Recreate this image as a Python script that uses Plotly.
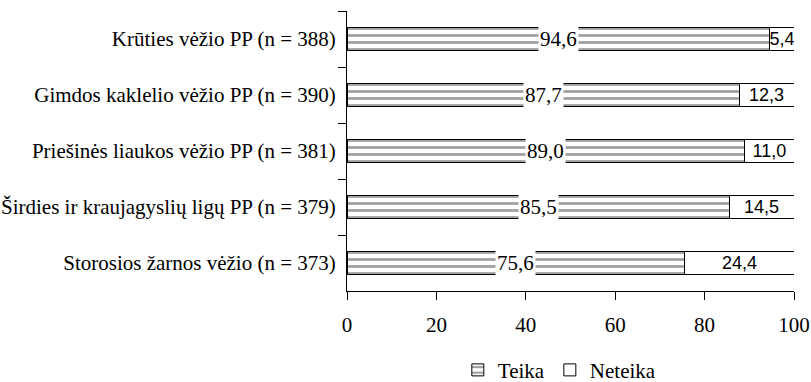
import plotly.graph_objects as go

categories = [
    "Krūties vėžio PP (n = 388)",
    "Gimdos kaklelio vėžio PP (n = 390)",
    "Priešinės liaukos vėžio PP (n = 381)",
    "Širdies ir kraujagyslių ligų PP (n = 379)",
    "Storosios žarnos vėžio (n = 373)",
]
teika = [94.6, 87.7, 89.0, 85.5, 75.6]
neteika = [5.4, 12.3, 11.0, 14.5, 24.4]
series_names = ["Teika", "Neteika"]
x_ticks = [0, 20, 40, 60, 80, 100]

def fmt(v):
    return f"{v:.1f}".replace(".", ",")

SERIF = "Liberation Serif"
SANS = "Liberation Sans"

fig = go.Figure()
fig.add_trace(go.Bar(
    y=categories, x=teika, orientation="h", name=series_names[0],
    marker=dict(color="white", line=dict(color="black", width=1),
                pattern=dict(shape="-", fgcolor="#444444", bgcolor="white", size=7, solidity=0.4)),
    hoverinfo="x+y",
))
fig.add_trace(go.Bar(
    y=categories, x=neteika, orientation="h", name=series_names[1],
    marker=dict(color="white", line=dict(color="black", width=1)),
    text=[fmt(v) for v in neteika], textposition="inside", insidetextanchor="middle",
    constraintext="none",
    textfont=dict(family=SANS, size=18, color="black"),
))

for c, v in zip(categories, teika):
    fig.add_annotation(x=v / 2, y=c, text=fmt(v), showarrow=False,
                       bgcolor="white", borderpad=1,
                       font=dict(family=SERIF, size=21, color="black"))

fig.update_layout(
    barmode="stack",
    bargap=0.6,
    width=811, height=382,
    margin=dict(l=347, r=17, t=11, b=91, autoexpand=False),
    paper_bgcolor="white", plot_bgcolor="white",
    font=dict(family=SERIF, size=21, color="black"),
    showlegend=True,
    legend=dict(orientation="h", x=0.475, xanchor="center", y=-0.283, yanchor="middle",
                font=dict(family=SERIF, size=21), traceorder="normal"),
    xaxis=dict(range=[0, 100], tickvals=x_ticks, ticktext=[str(t) for t in x_ticks],
               showgrid=False, zeroline=False, showline=True, linecolor="black", linewidth=1,
               ticks="outside", ticklen=8, tickcolor="black", ticklabelstandoff=7,
               automargin=False, tickfont=dict(family=SERIF, size=21)),
    yaxis=dict(autorange="reversed", showgrid=False, showline=True, linecolor="black", linewidth=1,
               ticks="outside", tickson="boundaries", ticklen=8, tickcolor="black",
               ticklabelstandoff=6, automargin=False, tickfont=dict(family=SERIF, size=21)),
)

fig.write_html("out.html", config={"displayModeBar": False},
               post_script="document.body.style.margin='0';")
